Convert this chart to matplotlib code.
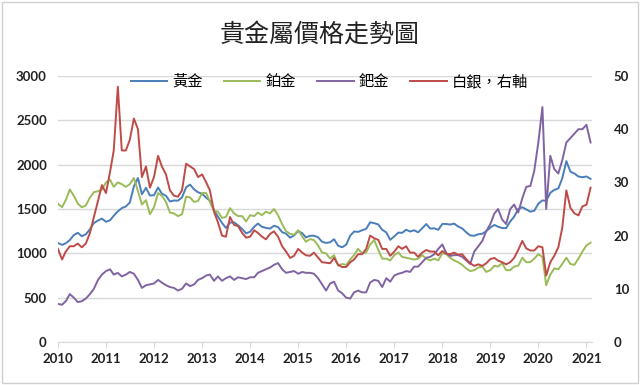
# 貴金屬價格走勢圖 - gold / platinum / palladium / silver, 2010-2021

import numpy as np
import pandas as pd
import matplotlib
matplotlib.use('Agg')
import matplotlib.pyplot as plt
import matplotlib.dates as mdates
from matplotlib.patches import Rectangle

# monthly values (month start), Jan 2010 .. Feb 2021
dates = pd.date_range('2010-01-01', '2021-02-01', freq='MS')

gold = [1117, 1095, 1113, 1150, 1205, 1232, 1193, 1215, 1271, 1342, 1370, 1391,
        1356, 1373, 1424, 1473, 1510, 1529, 1572, 1756, 1850, 1666, 1739, 1652,
        1656, 1742, 1673, 1650, 1585, 1596, 1594, 1630, 1745, 1775, 1721, 1688,
        1671, 1627, 1593, 1487, 1414, 1343, 1286, 1347, 1349, 1316, 1275, 1225,
        1244, 1300, 1336, 1299, 1287, 1279, 1311, 1296, 1239, 1222, 1176, 1202,
        1251, 1227, 1179, 1198, 1199, 1181, 1131, 1117, 1125, 1159, 1086, 1068,
        1097, 1200, 1246, 1242, 1260, 1276, 1350, 1340, 1326, 1266, 1236, 1152,
        1192, 1234, 1231, 1266, 1246, 1260, 1237, 1283, 1330, 1279, 1282, 1265,
        1331, 1331, 1324, 1335, 1303, 1281, 1238, 1202, 1198, 1215, 1221, 1250,
        1291, 1320, 1300, 1285, 1284, 1359, 1413, 1500, 1520, 1495, 1470, 1480,
        1560, 1597, 1591, 1683, 1715, 1732, 1846, 2040, 1921, 1900, 1866, 1858,
        1867, 1840]

platinum = [1560, 1520, 1600, 1720, 1650, 1560, 1520, 1540, 1630, 1690, 1700, 1720,
            1800, 1830, 1750, 1800, 1780, 1750, 1780, 1850, 1700, 1550, 1600, 1440,
            1520, 1680, 1650, 1580, 1460, 1450, 1420, 1440, 1640, 1630, 1580, 1590,
            1680, 1680, 1580, 1480, 1470, 1400, 1410, 1510, 1450, 1420, 1420, 1360,
            1430, 1420, 1460, 1430, 1470, 1450, 1500, 1430, 1330, 1250, 1220, 1210,
            1260, 1190, 1130, 1160, 1150, 1090, 1010, 1000, 940, 980, 860, 880,
            870, 930, 980, 1050, 1000, 1010, 1100, 1150, 1040, 940, 940, 920,
            980, 1010, 960, 950, 940, 930, 940, 980, 940, 920, 940, 920,
            1000, 990, 950, 920, 900, 870, 830, 800, 810, 840, 850, 790,
            810, 860, 850, 890, 810, 810, 850, 860, 950, 900, 900, 940,
            990, 960, 640, 760, 830, 820, 880, 950, 880, 870, 940, 1020,
            1090, 1120]

palladium = [430, 420, 460, 540, 500, 450, 460, 490, 540, 600, 700, 760,
             800, 820, 760, 780, 740, 760, 790, 770, 700, 610, 640, 650,
             660, 700, 670, 640, 620, 610, 580, 600, 660, 630, 650, 700,
             720, 750, 760, 690, 740, 690, 720, 740, 700, 730, 720, 710,
             730, 730, 780, 800, 820, 840, 870, 890, 820, 780, 790, 800,
             770, 790, 780, 780, 770, 720, 650, 580, 660, 680, 580, 550,
             500, 490, 560, 580, 560, 560, 670, 700, 690, 620, 720, 680,
             750, 770, 780, 800, 790, 850, 850, 900, 950, 960, 990, 1050,
             1100, 1000, 970, 980, 980, 960, 920, 880, 1020, 1080, 1140, 1250,
             1330, 1450, 1500, 1380, 1330, 1500, 1550, 1460, 1620, 1750, 1760, 1930,
             2250, 2650, 1500, 2100, 1950, 1900, 2050, 2250, 2300, 2350, 2400, 2400,
             2450, 2250]

# silver, right axis
silver = [17.5, 15.5, 17.0, 18.0, 18.0, 18.5, 17.8, 18.5, 20.5, 23.5, 26.5, 29.5,
          28.0, 32.0, 36.0, 48.0, 36.0, 36.0, 38.0, 42.0, 40.0, 31.0, 33.0, 29.0,
          31.0, 35.0, 33.0, 31.5, 28.5, 27.5, 27.3, 28.5, 33.5, 33.0, 32.5, 31.0,
          31.5, 30.0, 28.5, 24.5, 22.5, 20.0, 19.8, 23.5, 22.0, 21.8, 20.5, 19.6,
          19.8, 21.0, 20.5, 19.8, 19.3, 20.3, 20.8, 19.8, 18.0, 17.0, 15.8, 16.2,
          17.5, 16.8, 16.3, 16.2, 16.8, 15.9, 15.0, 14.9, 14.8, 15.8, 14.5, 14.1,
          14.1, 15.0, 15.5, 16.5, 16.5, 17.5, 20.0, 19.5, 19.2, 17.5, 17.5, 16.2,
          17.0, 18.0, 17.5, 18.0, 16.8, 16.8, 16.0, 16.8, 17.3, 17.0, 17.0, 16.3,
          17.1, 16.6, 16.5, 16.8, 16.4, 16.5, 15.6, 14.8, 14.3, 14.6, 14.3, 14.8,
          15.6, 15.8, 15.3, 15.0, 14.6, 15.0, 15.8, 17.3, 19.0, 17.6, 17.2, 17.2,
          18.0, 17.8, 12.5, 15.0, 16.2, 17.8, 21.5, 28.5, 25.2, 24.2, 23.8, 25.5,
          25.8, 29.0]

years = list(range(2010, 2022))

df = pd.DataFrame({'gold': gold, 'platinum': platinum,
                   'palladium': palladium, 'silver': silver}, index=dates)

plt.rcParams['font.family'] = ['Noto Sans CJK TC', 'DejaVu Sans']

fig = plt.figure(figsize=(6.4, 3.85), dpi=100)
ax = fig.add_axes([0.0906, 0.1117, 0.834, 0.6909])
ax2 = ax.twinx()

l1, = ax.plot(df.index, df['gold'], color='#4A7EBB', lw=1.4, label='黃金')
l2, = ax.plot(df.index, df['platinum'], color='#9BBB59', lw=1.4, label='鉑金')
l3, = ax.plot(df.index, df['palladium'], color='#8064A2', lw=1.4, label='鈀金')
l4, = ax2.plot(df.index, df['silver'], color='#BE4B48', lw=1.4, label='白銀，右軸')

ax.set_ylim(0, 3000)
ax.set_yticks(range(0, 3001, 500))
ax2.set_ylim(0, 50)
ax2.set_yticks(range(0, 51, 10))
ax.set_xlim(pd.Timestamp('2010-01-01'), pd.Timestamp('2021-02-10'))
ax.set_xticks([pd.Timestamp(f'{y}-01-01') for y in years])
ax.xaxis.set_major_formatter(mdates.DateFormatter('%Y'))

ax.grid(axis='y', color='#d9d9d9', lw=1)
ax.set_axisbelow(True)
for a in (ax, ax2):
    for s in ('top', 'left', 'right'):
        a.spines[s].set_visible(False)
    a.spines['bottom'].set_color('#d9d9d9')
ax2.spines['bottom'].set_visible(False)

ax.tick_params(axis='x', colors='#d9d9d9', length=4, labelcolor='#222222', pad=4)
ax.tick_params(axis='y', length=0, labelcolor='#222222', pad=8)
ax2.tick_params(axis='y', length=0, labelcolor='#222222', pad=16)
for lab in ax.get_xticklabels() + ax.get_yticklabels() + ax2.get_yticklabels():
    lab.set_fontweight('bold')
    lab.set_fontsize(9.5)
    lab.set_family(['Lato', 'DejaVu Sans'])

fig.text(0.5, 0.91, '貴金屬價格走勢圖', ha='center', va='center', fontsize=18, color='#222222')

ax.legend(handles=[l1, l2, l3, l4], loc='upper center', bbox_to_anchor=(0.508, 1.063),
          ncol=4, frameon=False, fontsize=11, handlelength=2.4, columnspacing=1.4,
          handletextpad=0.3)

fig.patches.append(Rectangle((0.003, 0.004), 0.994, 0.99, transform=fig.transFigure,
                             fill=False, edgecolor='#d0d0d0', lw=1))

fig.savefig('out.png', dpi=100)
